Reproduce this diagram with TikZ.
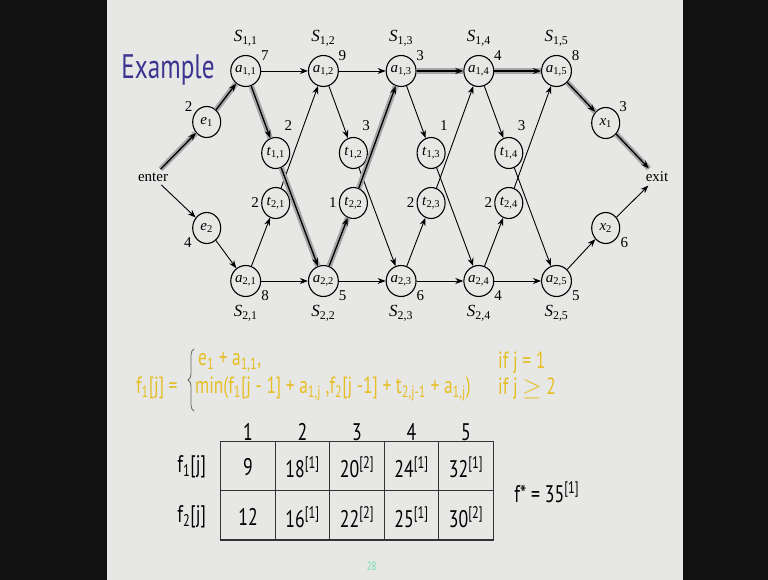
\documentclass[tikz,border=0pt]{standalone}
\usepackage{fontspec}
\setmainfont{Liberation Serif}
\newfontfamily\slidefont[FakeStretch=0.74]{PT Sans}
\usetikzlibrary{arrows.meta, shapes.geometric, decorations.pathreplacing, calc}

\definecolor{slidebg}{HTML}{E7E7E5}
\definecolor{framebk}{HTML}{111111}
\definecolor{titleblue}{HTML}{3C3590}
\definecolor{formyellow}{HTML}{E6BE22}
\definecolor{pagegreen}{HTML}{70DDB0}

\newcommand{\vname}[2]{\textit{#1}\textsubscript{#2}}
\newcommand{\stepidx}[1]{\textsuperscript{[#1]}}

\begin{document}
\begin{tikzpicture}[
        x=1pt, y=-1pt,
        font=\fontsize{15}{16}\selectfont,
        % Styles
        stn/.style={draw, ellipse, line width=1.1pt, minimum width=28pt, minimum height=31pt, inner sep=0pt},
        wt/.style={font=\fontsize{15}{16}\selectfont, inner sep=1pt, label distance=1pt},
        slab/.style={font=\fontsize{17}{18}\selectfont, label distance=5pt},
        arrow/.style={-{Stealth[length=8pt, width=6pt]}, line width=0.9pt},
        path_hl/.style={arrow, line width=1.3pt, preaction={draw=gray!70, line width=5.5pt, -}},
        slide/.style={font=\slidefont\fontsize{23.5}{26}\selectfont},
        formula/.style={slide, text=formyellow, anchor=west, inner sep=0pt},
        cell/.style={slide, font=\slidefont\fontsize{24}{26}\selectfont, inner sep=0pt},
        tbl/.style={line width=1.3pt, draw=black!80}
    ]

    % Frame and slide
    \fill[framebk] (0,0) rectangle (768,580);
    \fill[slidebg] (107,0) rectangle (683,580);

    \node[slide, font=\slidefont\fontsize{34}{36}\selectfont, text=titleblue] (title) at (168,70) {Example};

    % Assembly stations
    \foreach \j/\wa/\wb [evaluate=\j as \xa using 245.7+77.7*(\j-1)] in {1/7/8, 2/9/5, 3/3/6, 4/4/4, 5/8/5} {
        \node[stn, label={[wt]32:\wa}, label={[slab]90:\vname{S}{1,\j}}] (a1\j) at (\xa,71) {\vname{a}{1,\j}};
        \node[stn, label={[wt]-30:\wb}, label={[slab]-90:\vname{S}{2,\j}}] (a2\j) at (\xa,281) {\vname{a}{2,\j}};
    }

    % Transfer nodes
    \foreach \j/\wa/\wb [evaluate=\j as \xt using 275.7+77.7*(\j-1)] in {1/2/2, 2/3/1, 3/1/2, 4/3/2} {
        \node[stn, label={[wt, label distance=7pt]70:\wa}] (t1\j) at (\xt,153) {\vname{t}{1,\j}};
        \node[stn, label={[wt]180:\wb}] (t2\j) at (\xt,203) {\vname{t}{2,\j}};
    }

    % Entry and exit
    \node (enter) at (153,177) {enter};
    \node (exit) at (657,177) {exit};
    \node[stn, label={[wt]145:2}] (e1) at (206.7,122) {\vname{e}{1}};
    \node[stn, label={[wt]210:4}] (e2) at (206.7,228) {\vname{e}{2}};
    \node[stn, label={[wt]40:3}] (x1) at (605.7,123) {\vname{x}{1}};
    \node[stn, label={[wt]-30:6}] (x2) at (605.7,228) {\vname{x}{2}};

    % Connectors
    \foreach \s/\d in {enter/e2, e2/a21, a11/a12, a21/t21, t21/a12, a21/a22, a12/a13, a12/t12, t12/a23, a22/a23,
                       a13/t13, t13/a24, a23/t23, t23/a14, a23/a24, a14/t14, t14/a25, a24/t24, t24/a15, a24/a25,
                       a25/x2, x2/exit}
        \draw[arrow] (\s) -- (\d);

    % Fastest way
    \foreach \s/\d in {enter/e1, e1/a11, a11/t11, t11/a22, a22/t22, t22/a13, a13/a14, a14/a15, a15/x1, x1/exit}
        \draw[path_hl] (\s) -- (\d);

    % Recurrence
    \node[formula] (flhs) at (136,388) {f\textsubscript{1}[j] =};
    \node[formula] (frow1) at (198,362) {e\textsubscript{1} + a\textsubscript{1,1},};
    \node[formula] (frow2) at (195,389) {min(f\textsubscript{1}[j - 1] + a\textsubscript{1,j} ,f\textsubscript{2}[j -1] + t\textsubscript{2,j-1} + a\textsubscript{1,j})};
    \node[formula, align=left] (fcond) at (498,376) {if j = 1\\if j \raisebox{-0.5pt}{$\geq$} 2};
    \coordinate (brb) at (194,411);
    \coordinate (brt) at (194,349);
    \draw[black!60, line width=0.8pt, decorate, decoration={brace, amplitude=6pt}] (brb) -- (brt);

    % Table
    \draw[tbl] (220.7,441.7) rectangle (493.3,540);
    \draw[tbl] (220.7,490.7) -- (493.3,490.7);
    \foreach \c in {1,...,4}
        \draw[tbl] (220.7+54.5*\c,441.7) -- (220.7+54.5*\c,540);

    \foreach \c/\va/\vb [evaluate=\c as \xc using 248+54.5*(\c-1)] in
        {1/9/12, 2/18\stepidx{1}/16\stepidx{1}, 3/20\stepidx{2}/22\stepidx{2}, 4/24\stepidx{1}/25\stepidx{1}, 5/32\stepidx{1}/30\stepidx{2}} {
        \node[cell, anchor=base] (h\c) at (\xc,440) {\c};
        \node[cell] (c1\c) at (\xc,466.7) {\va};
        \node[cell] (c2\c) at (\xc,516.7) {\vb};
    }
    \node[cell] (f1lab) at (191.7,466.7) {f\textsubscript{1}[j]};
    \node[cell] (f2lab) at (191.7,516.7) {f\textsubscript{2}[j]};
    \node[cell] (fstar) at (546.7,491.7) {f* = 35\stepidx{1}};

    \node[slide, font=\slidefont\fontsize{12}{14}\selectfont, text=pagegreen] (pagenum) at (371.7,566.7) {28};

\end{tikzpicture}
\end{document}
